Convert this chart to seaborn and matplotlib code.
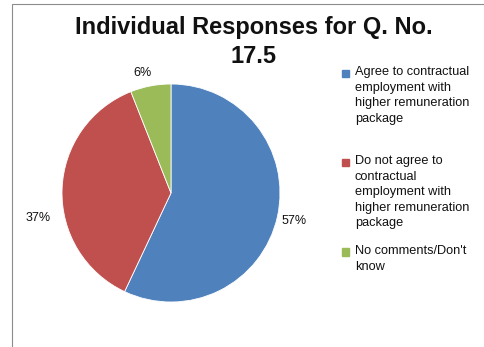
import matplotlib
matplotlib.use("Agg")
import matplotlib.pyplot as plt
from matplotlib.patches import Patch, Rectangle
import seaborn as sns

sns.set_style("white")
plt.rcParams['font.family'] = ['Liberation Sans', 'DejaVu Sans']

title = "Individual Responses for Q. No.\n17.5"
categories = [
    "Agree to contractual\nemployment with\nhigher remuneration\npackage",
    "Do not agree to\ncontractual\nemployment with\nhigher remuneration\npackage",
    "No comments/Don't\nknow",
]
values = [57, 37, 6]
colors = sns.color_palette(["#4F81BD", "#C0504D", "#9BBB59"])

W, H, DPI = 484, 347, 100
fig = plt.figure(figsize=(W / DPI, H / DPI), dpi=DPI)

# chart frame (gray border, cut off at right and bottom like the original)
fig.add_artist(Rectangle((11.5 / W, -0.1), 1.2, 1.1 - 3.5 / H, transform=fig.transFigure,
                         fill=False, edgecolor="#8c8c8c", linewidth=0.8))

# pie axes: centre (171, 193) px, radius 109 px
cx, cy, r = 171, 193, 109
ax = fig.add_axes([(cx - r) / W, (H - cy - r) / H, 2 * r / W, 2 * r / H])
wedges, texts, autotexts = ax.pie(
    values, colors=colors, startangle=90, counterclock=False,
    autopct="%.0f%%", pctdistance=1.16,
    wedgeprops=dict(edgecolor="white", linewidth=0.6),
    textprops=dict(fontsize=9, color="#111111"))
ax.set_xlim(-1, 1)
ax.set_ylim(-1, 1)
# Excel's label placement for the red slice
autotexts[1].set_position((-1.22, -0.23))
autotexts[2].set_position((-0.26, 1.10))

fig.text(254 / W, 1 - 42 / H, title, ha="center", va="center",
         fontsize=17, fontweight="bold", linespacing=1.37, color="#111111")

# one legend per entry so the vertical gaps follow the original
legend_tops = [66, 155, 245]
legs = []
for lab, col, top in zip(categories, colors, legend_tops):
    leg = fig.legend(handles=[Patch(facecolor=col, edgecolor=col)], labels=[lab],
                     loc="upper left", bbox_to_anchor=(342 / W, 1 - top / H),
                     frameon=False, fontsize=9.2, handlelength=0.55, handleheight=0.55,
                     handletextpad=0.45, borderpad=0, borderaxespad=0)
    for t in leg.get_texts():
        t.set_color("#111111")
        t.set_linespacing(1.4)
    legs.append(leg)

# put the square marker next to the first line of each label
fig.canvas.draw()
rend = fig.canvas.get_renderer()
for leg in legs:
    for h, t in zip(leg.legend_handles, leg.get_texts()):
        tb = t.get_window_extent(rend)
        hb = h.get_window_extent(rend)
        n = t.get_text().count("\n") + 1
        target = tb.y1 - tb.height / n / 2
        dy = target - (hb.y0 + hb.y1) / 2
        h.set_y(h.get_y() + dy * 72 / DPI)

fig.savefig("out.png", dpi=DPI)
